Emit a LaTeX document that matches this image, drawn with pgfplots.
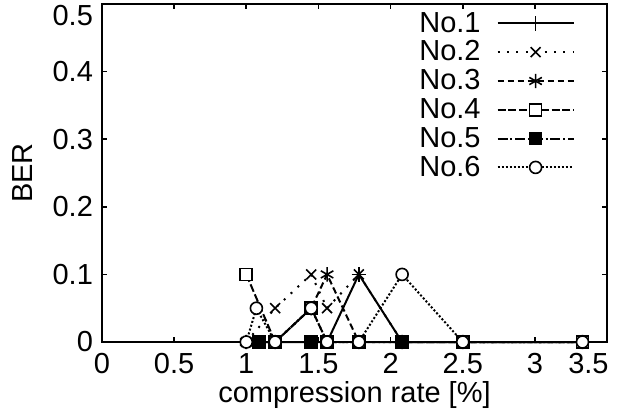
\documentclass[border=0pt]{standalone}
\usepackage{fontspec}
\setmainfont{Liberation Sans}
\usepackage{pgfplots}
\pgfplotsset{compat=1.18}
\usetikzlibrary{calc}

\newcommand{\labfont}{\fontsize{14.5}{17}\selectfont}

\begin{document}
\begin{tikzpicture}
\begin{axis}[
    scale only axis,
    width=252.5pt, height=169pt,
    font=\labfont,
    xmin=0, xmax=3.5, ymin=0, ymax=0.5,
    xtick={0,0.5,1,1.5,2,2.5,3},
    ytick={0,0.1,0.2,0.3,0.4},
    extra x ticks={3.5}, extra y ticks={0.5},
    extra x tick style={xticklabel style={xshift=-9.3pt}},
    extra y tick style={yticklabel style={yshift=-6pt}},
    /pgf/number format/assume math mode=true,
    /pgf/number format/fixed,
    tick align=inside, major tick length=2.5pt,
    axis line style={line width=1pt},
    every tick/.style={black, line width=0.8pt},
    xticklabel style={yshift=-2pt},
    yticklabel style={xshift=-1pt},
    xlabel={compression rate [\%]},
    ylabel={BER},
    xlabel style={at={(axis description cs:0.5,0)}, anchor=center, yshift=-26.5pt},
    ylabel style={at={(axis description cs:-0.158,0.5)}, anchor=center},
    clip=false,
    legend plot pos=right,
    legend cell align=right,
    legend image code/.code={\draw[mark repeat=2,mark phase=2,#1] plot coordinates {(0pt,0pt) (19pt,0pt) (38pt,0pt)};},
    legend style={at={(1,1)}, anchor=north east, xshift=-16pt, yshift=-2.3pt,
        draw=none, fill=none, inner sep=0pt, row sep=0pt, column sep=6.5pt,
        nodes={font=\labfont, inner sep=1.5pt, text height=10pt, text depth=1.4pt}},
]
% No.1
\addplot[black, line width=1pt, mark=+, mark size=3.6pt, mark options={solid, line width=0.8pt}] coordinates {
    (1.0,0)(1.2,0)(1.56,0)(1.78,0.1)(2.08,0)(2.5,0)(3.33,0)
};
\addlegendentry{\labfont No.1}
% No.2
\addplot[black, line width=1pt, dash pattern=on 1pt off 3.7pt, mark=x, mark size=3.5pt, mark options={solid, line width=0.8pt}] coordinates {
    (1.0,0)(1.2,0.05)(1.45,0.1)(1.56,0.05)(1.78,0.1)(2.08,0)(2.5,0)(3.33,0)
};
\addlegendentry{\labfont No.2}
% No.3
\addplot[black, line width=1pt, dash pattern=on 3.3pt off 1.7pt, mark=asterisk, mark size=3.6pt, mark options={solid, line width=0.8pt}] coordinates {
    (1.0,0)(1.2,0)(1.45,0.05)(1.56,0.1)(1.78,0)(2.08,0)(2.5,0)(3.33,0)
};
\addlegendentry{\labfont No.3}
% No.4
\addplot[black, line width=1pt, dash pattern=on 4pt off 1.4pt, mark=square*, mark size=3pt, mark options={solid, fill=white, line width=0.8pt}] coordinates {
    (1.0,0.1)(1.2,0)(1.45,0.05)(1.56,0)(1.78,0)(2.5,0)(3.33,0)
};
\addlegendentry{\labfont No.4}
% No.5
\addplot[black, line width=1pt, dash pattern=on 5pt off 1.4pt on 1pt off 1.4pt, mark=square*, mark size=3pt, mark options={solid, fill=black, line width=0.8pt}] coordinates {
    (1.09,0)(1.45,0)(2.08,0)
};
\addlegendentry{\labfont No.5}
% No.6
\addplot[black, line width=1pt, dash pattern=on 1pt off 1pt, mark=*, mark size=3pt, mark options={solid, fill=white, line width=0.8pt}] coordinates {
    (1.0,0)(1.07,0.05)(1.2,0)(1.45,0.05)(1.56,0)(1.78,0)(2.08,0.1)(2.5,0)(3.33,0)
};
\addlegendentry{\labfont No.6}
\end{axis}
\pgfresetboundingbox
\path ($(current axis.south west)+(-51pt,-38.5pt)$) rectangle ($(current axis.north east)+(10.5pt,2pt)$);
\end{tikzpicture}
\end{document}
